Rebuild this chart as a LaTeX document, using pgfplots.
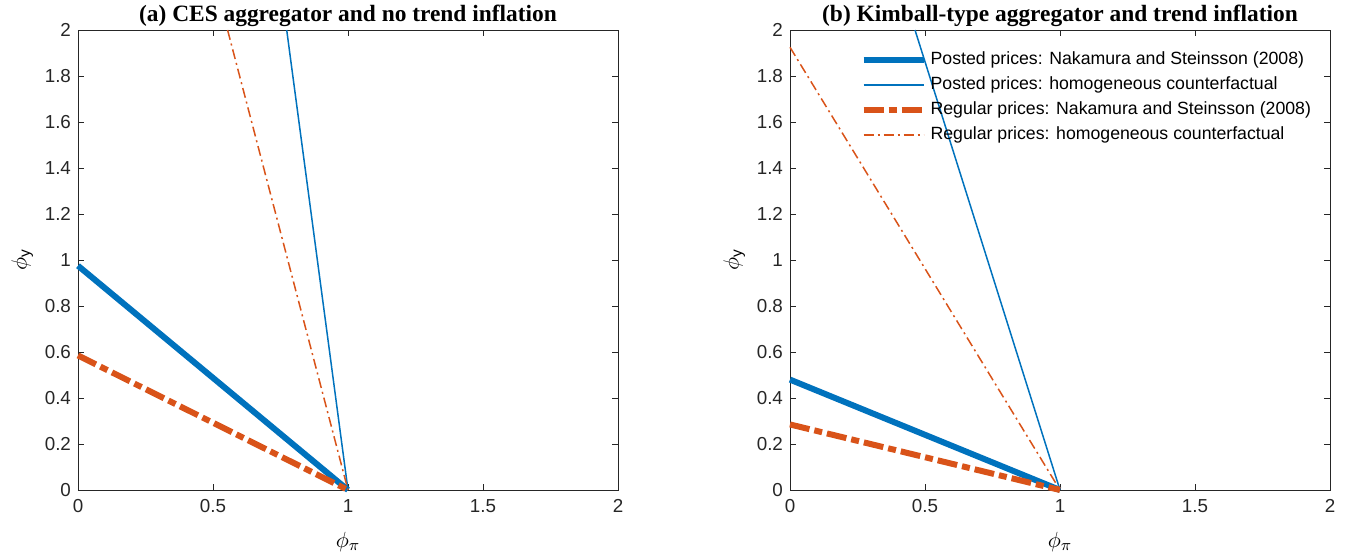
\documentclass[border=0pt]{standalone}
\usepackage{fontspec}
\setmainfont{Liberation Sans}
\newfontfamily\titlefont{Liberation Serif}
\usepackage{pgfplots}
\pgfplotsset{compat=1.18}
\definecolor{mblue}{RGB}{0,114,189}
\definecolor{morange}{RGB}{217,83,25}
\definecolor{mgray}{RGB}{38,38,38}
\tikzset{mytitle/.style={font=\titlefont\bfseries\fontsize{11.7}{13}\selectfont, anchor=base, yshift=4.2pt, inner sep=0pt}}
\begin{document}
\begin{tikzpicture}[x=1pt,y=1pt]
\useasboundingbox (-39,-34.5) rectangle (636.5,245);
\pgfplotsset{
  myax/.style={
    width=270pt, height=230pt, scale only axis,
    xmin=0, xmax=2, ymin=0, ymax=2,
    xtick={0,0.5,1,1.5,2}, ytick={0,0.2,...,2.01},
    xticklabels={0,0.5,1,1.5,2},
    yticklabels={0,0.2,0.4,0.6,0.8,1,1.2,1.4,1.6,1.8,2},
    tick align=inside, tick pos=both,
    major tick length=3pt,
    axis line style={mgray, line width=0.4pt},
    every tick/.style={mgray, line width=0.4pt},
    tick label style={font=\fontsize{9.4}{11}\selectfont, text=mgray},
    xticklabel style={yshift=-1pt},
    xlabel={$\phi_{\pi}$}, ylabel={$\phi_{\mathrm{y}}$},
    label style={font=\fontsize{11}{13}\selectfont},
    xlabel style={yshift=-3pt},
    ylabel style={yshift=-1pt},
    clip=false,
  },
  thickposted/.style={mblue, line width=3pt},
  thinposted/.style={mblue, line width=0.75pt},
  thickreg/.style={morange, line width=3pt, dash pattern=on 10pt off 2.5pt on 4pt off 2.5pt},
  thinreg/.style={morange, line width=0.75pt, dash pattern=on 5pt off 2pt on 1pt off 2pt},
}
\begin{axis}[myax, at={(0,0)}, anchor=south west]
\addplot[thickposted] coordinates {(0,0.975) (1,0)};
\addplot[thinposted] coordinates {(0.773,2) (1,0)};
\addplot[thickreg] coordinates {(0,0.585) (1,0)};
\addplot[thinreg] coordinates {(0.554,2) (1,0)};
\node[mytitle] at (rel axis cs:0.5,1) {(a) CES aggregator and no trend inflation};
\end{axis}
\begin{axis}[myax, at={(356pt,0)}, anchor=south west,
  legend style={at={(0.13,0.962)}, anchor=north west, draw=none, fill=none,
    font=\fontsize{8.85}{10.5}\selectfont, row sep=0.6pt, inner sep=0pt},
  legend cell align=left,
  legend image code/.code={\draw[#1] (0pt,0pt) -- (30pt,0pt);}]
\addplot[thickposted] coordinates {(0,0.48) (1,0)};
\addlegendentry{Posted prices: Nakamura and Steinsson (2008)}
\addplot[thinposted] coordinates {(0.463,2) (1,0)};
\addlegendentry{Posted prices: homogeneous counterfactual}
\addplot[thickreg] coordinates {(0,0.285) (1,0)};
\addlegendentry{Regular prices: Nakamura and Steinsson (2008)}
\addplot[thinreg] coordinates {(0,1.925) (1,0)};
\addlegendentry{Regular prices: homogeneous counterfactual}
\node[mytitle] at (rel axis cs:0.5,1) {(b) Kimball-type aggregator and trend inflation};
\end{axis}
\end{tikzpicture}
\end{document}
